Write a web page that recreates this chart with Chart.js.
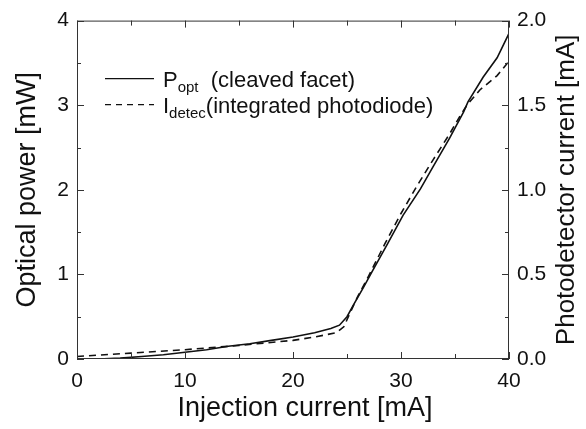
<!DOCTYPE html>
<html lang="en">
<head>
<meta charset="UTF-8">
<title>Optical power and photodetector current</title>
<script src="https://cdn.jsdelivr.net/npm/chart.js"></script>
<style>
    body { margin: 0; background: #fff; }
    #wrap { width: 586px; height: 429px; }
</style>
</head>
<body>
<div id="wrap"><canvas id="liChart" width="586" height="429"></canvas></div>
<script>
// P_opt, cleaved facet: injection current [mA] -> optical power [mW]
const currentOpt = [0, 2, 4, 6, 8, 10, 12, 14, 16, 18, 20, 22, 23.5, 24.3, 25, 25.6, 26.5, 27.4, 28.7, 30.2, 31.8, 33, 34.5, 35.8, 36.2, 37.6, 38.9, 40];
const powerOpt   = [0, 0, 0.01, 0.03, 0.05, 0.08, 0.11, 0.15, 0.18, 0.22, 0.26, 0.31, 0.36, 0.40, 0.50, 0.64, 0.84, 1.05, 1.35, 1.70, 2.01, 2.28, 2.61, 2.92, 3.04, 3.33, 3.56, 3.85];

// I_detec, integrated photodiode: injection current [mA] -> photodetector current [mA]
const currentDet = [0, 5, 10, 15, 20, 22, 24, 24.7, 25.3, 26, 27, 28.5, 30, 31.5, 33, 34.5, 35.5, 36.1, 37.3, 38.9, 40];
const detCurrent = [0.015, 0.035, 0.055, 0.08, 0.11, 0.13, 0.155, 0.19, 0.275, 0.37, 0.49, 0.68, 0.86, 1.025, 1.18, 1.33, 1.44, 1.50, 1.59, 1.675, 1.76];

// legend: main letter, subscript, rest
const legendMain = ['P', 'I'];
const legendSub = ['opt', 'detec'];
const legendRest = ['  (cleaved facet)', '(integrated photodiode)'];

const xTitle = 'Injection current [mA]';
const yTitle = 'Optical power [mW]';
const y1Title = 'Photodetector current [mA]';

const fam = '"Liberation Sans", Arial, Helvetica, sans-serif';
const ink = '#111';
const tickFont = { family: fam, size: 21 };
const titleFont = { family: fam, size: 27 };

function toPoints(xs, ys) {
    return xs.map((x, i) => ({ x: x, y: ys[i] }));
}

// frame, inward ticks, x and right titles, legend
const decor = {
    id: 'decor',
    afterDraw(chart) {
        const ctx = chart.ctx;
        const a = chart.chartArea;
        const sx = chart.scales.x, sy = chart.scales.y, sy1 = chart.scales.y1;
        ctx.save();
        ctx.strokeStyle = '#333';
        ctx.lineWidth = 1;
        ctx.strokeRect(a.left + 0.5, a.top + 0.5, a.right - a.left - 1, a.bottom - a.top - 1);

        ctx.beginPath();
        sx.ticks.forEach(t => {
            const p = Math.round(sx.getPixelForValue(t.value)) + 0.5;
            const len = t.value % 10 === 0 ? 7 : 5;
            ctx.moveTo(p, a.bottom); ctx.lineTo(p, a.bottom - len);
            ctx.moveTo(p, a.top); ctx.lineTo(p, a.top + len);
        });
        sy.ticks.forEach(t => {
            const p = Math.round(sy.getPixelForValue(t.value)) + 0.5;
            const len = Number.isInteger(t.value) ? 7 : 4;
            ctx.moveTo(a.left, p); ctx.lineTo(a.left + len, p);
        });
        sy1.ticks.forEach(t => {
            const p = Math.round(sy1.getPixelForValue(t.value)) + 0.5;
            const len = Number.isInteger(t.value * 2) ? 7 : 4;
            ctx.moveTo(a.right, p); ctx.lineTo(a.right - len, p);
        });
        ctx.stroke();

        ctx.fillStyle = ink;
        ctx.textAlign = 'center';
        // x title, sits a bit right of the plot centre in the original
        ctx.textBaseline = 'alphabetic';
        ctx.font = titleFont.size + 'px ' + fam;
        ctx.fillText(xTitle, 305, 416);

        // right axis title, reading bottom to top
        ctx.textBaseline = 'middle';
        ctx.font = '26px ' + fam;
        ctx.translate(567, (a.top + a.bottom) / 2);
        ctx.rotate(-Math.PI / 2);
        ctx.fillText(y1Title, 0, 0);
        ctx.restore();

        // legend
        ctx.save();
        ctx.fillStyle = ink;
        ctx.strokeStyle = ink;
        ctx.lineWidth = 1.3;
        ctx.textBaseline = 'alphabetic';
        ctx.textAlign = 'left';
        legendMain.forEach((m, i) => {
            const ly = a.top + 58 + i * 26;
            ctx.setLineDash(i === 0 ? [] : [6, 5]);
            ctx.beginPath();
            ctx.moveTo(a.left + 28, ly);
            ctx.lineTo(a.left + 77, ly);
            ctx.stroke();
            ctx.setLineDash([]);
            let tx = a.left + 86;
            const base = ly + 8;
            ctx.font = '22px ' + fam;
            ctx.fillText(m, tx, base);
            tx += ctx.measureText(m).width;
            ctx.font = '15px ' + fam;
            ctx.fillText(legendSub[i], tx, base + 5);
            tx += ctx.measureText(legendSub[i]).width;
            ctx.font = '22px ' + fam;
            ctx.fillText(legendRest[i], tx, base);
        });
        ctx.restore();
    }
};

const ctx = document.getElementById('liChart').getContext('2d');
const liChart = new Chart(ctx, {
    type: 'line',
    data: {
        datasets: [{
            label: 'P_opt (cleaved facet)',
            data: toPoints(currentOpt, powerOpt),
            yAxisID: 'y',
            borderColor: ink,
            borderWidth: 1.6,
            pointRadius: 0,
            tension: 0,
            fill: false
        }, {
            label: 'I_detec (integrated photodiode)',
            data: toPoints(currentDet, detCurrent),
            yAxisID: 'y1',
            borderColor: ink,
            borderWidth: 1.6,
            borderDash: [7, 5],
            pointRadius: 0,
            tension: 0,
            fill: false
        }]
    },
    options: {
        responsive: false,
        animation: false,
        layout: { padding: { top: 16, right: 0, bottom: 0, left: 0 } },
        plugins: { legend: { display: false }, tooltip: { enabled: false } },
        scales: {
            x: {
                type: 'linear', min: 0, max: 40,
                ticks: {
                    stepSize: 5, autoSkip: false, maxRotation: 0, padding: 10,
                    color: ink, font: tickFont,
                    callback: v => v % 10 === 0 ? String(v) : ''
                },
                grid: { drawOnChartArea: false, drawTicks: false },
                border: { display: false },
                afterFit: s => { s.height = 70; }
            },
            y: {
                type: 'linear', position: 'left', min: 0, max: 4,
                ticks: {
                    stepSize: 0.5, autoSkip: false, padding: 8,
                    color: ink, font: tickFont,
                    callback: v => Number.isInteger(v) ? String(v) : ''
                },
                grid: { drawOnChartArea: false, drawTicks: false },
                border: { display: false },
                title: { display: true, text: yTitle, color: ink, font: titleFont, padding: { top: 11, bottom: 0 } },
                afterFit: s => { s.width = 77; }
            },
            y1: {
                type: 'linear', position: 'right', min: 0, max: 2,
                ticks: {
                    stepSize: 0.25, autoSkip: false, padding: 8,
                    color: ink, font: tickFont,
                    callback: v => Number.isInteger(v * 2) ? v.toFixed(1) : ''
                },
                grid: { drawOnChartArea: false, drawTicks: false },
                border: { display: false },
                afterFit: s => { s.width = 77; }
            }
        }
    },
    plugins: [decor]
});
</script>
</body>
</html>
